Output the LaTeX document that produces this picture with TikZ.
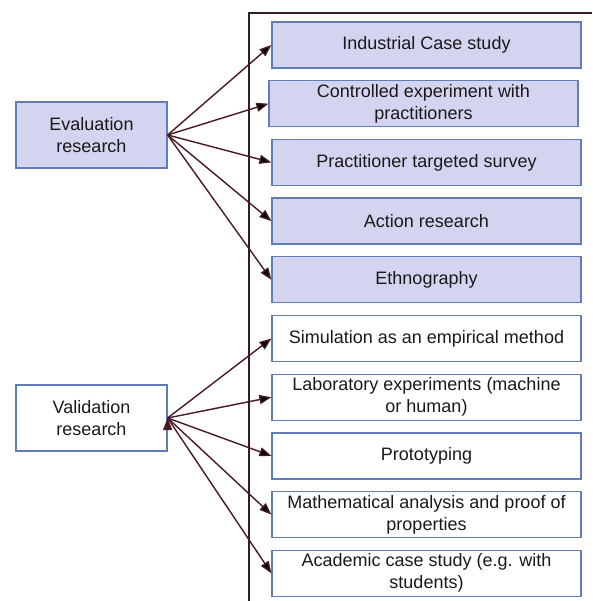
\documentclass[tikz,border=0pt]{standalone}
\usepackage{fontspec}
\setmainfont{Liberation Sans}
\usetikzlibrary{positioning, arrows.meta}
\definecolor{boxfill}{RGB}{212,212,240}
\definecolor{boxline}{RGB}{95,125,185}
\definecolor{arrowcol}{RGB}{70,25,35}
\definecolor{framecol}{RGB}{55,30,30}

\begin{document}
\begin{tikzpicture}[
    x=1pt, y=1pt,
    node distance=11.5pt,
    every node/.style={font=\fontsize{18}{22}\selectfont, text=black!90},
    method/.style={draw=boxline, line width=1.2pt, minimum width=309pt, minimum height=46pt, align=center, inner sep=2pt},
    evalmethod/.style={method, fill=boxfill},
    research/.style={draw=boxline, line width=1.2pt, minimum width=151pt, minimum height=66pt, align=center},
    link/.style={draw=arrowcol, line width=1.4pt, -{Triangle[length=12pt,width=9pt]}}
]
    \useasboundingbox (0,0) rectangle (592,-601);

    % Frame
    \draw[framecol, line width=1.3pt] (592,-13) -- (249,-13) -- (249,-601);

    % Research types
    \node[research, fill=boxfill] (eval) at (91.5,-135) {Evaluation\\research};
    \node[research] (valid) at (91.5,-418) {Validation\\research};

    % Methods
    \node[evalmethod] (ind) at (426.5,-45) {Industrial Case study};
    \node[evalmethod, below=of ind, xshift=-3pt] (ctrl) {Controlled experiment with\\practitioners};
    \node[evalmethod, below=of ctrl, xshift=3pt] (surv) {Practitioner targeted survey};
    \node[evalmethod, below=of surv] (act) {Action research};
    \node[evalmethod, below=of act] (eth) {Ethnography};
    \node[method, below=of eth] (sim) {Simulation as an empirical method};
    \node[method, below=of sim] (lab) {Laboratory experiments (machine\\or human)};
    \node[method, below=of lab] (proto) {Prototyping};
    \node[method, below=of proto] (math) {Mathematical analysis and proof of\\properties};
    \node[method, below=of math] (acad) {Academic case study (e.g. with\\students)};

    % Arrows
    \path[link]
        (eval.east) edge (ind.west)
        (eval.east) edge (ctrl.west)
        (eval.east) edge (surv.west)
        (eval.east) edge (act.west)
        (eval.east) edge (eth.west)
        (valid.east) edge (sim.west)
        (valid.east) edge (lab.west)
        (valid.east) edge (proto.west)
        (valid.east) edge (math.west)
        (valid.east) edge (acad.west);
\end{tikzpicture}
\end{document}
